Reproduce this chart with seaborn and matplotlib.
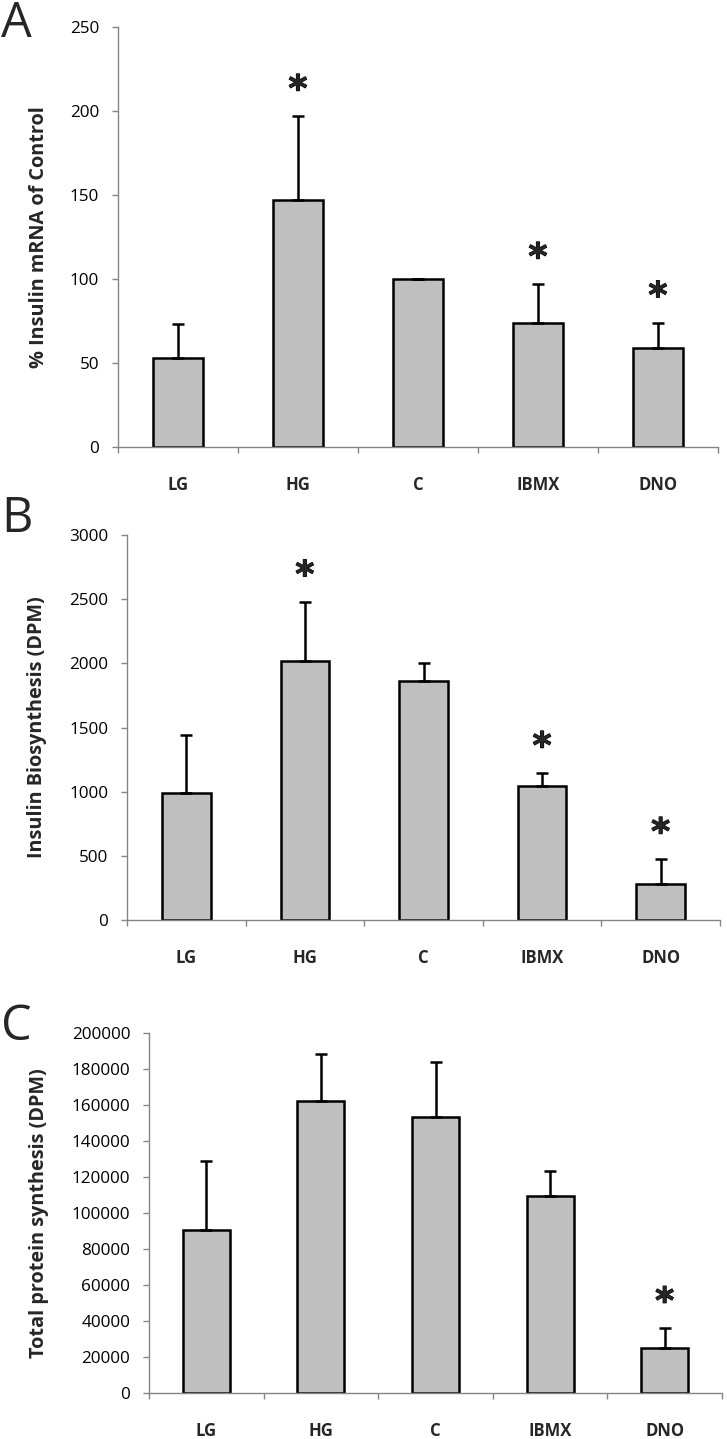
# three-panel bar figure: insulin mRNA, insulin biosynthesis, total protein synthesis
import numpy as np
import matplotlib
matplotlib.use('Agg')
import matplotlib.pyplot as plt
import matplotlib.patheffects as pe
import seaborn as sns

# ---- data
groups = ['LG', 'HG', 'C', 'IBMX', 'DNO']

mrna_mean = [53, 147, 100, 74, 59]
mrna_err = [20, 50, 0, 23, 15]
mrna_sig = [False, True, False, True, True]

biosyn_mean = [990, 2020, 1860, 1045, 280]
biosyn_err = [450, 460, 140, 100, 195]
biosyn_sig = [False, True, False, True, True]

protein_mean = [90500, 162000, 153500, 109500, 25000]
protein_err = [38500, 26500, 30500, 14000, 11000]
protein_sig = [False, False, False, False, True]

# ---- style
sns.set_style('white')
plt.rcParams['font.family'] = ['Open Sans', 'DejaVu Sans']

BAR_GREY = '#BFBFBF'
AXIS_GREY = '#858585'


def draw_panel(ax, means, errs, sig, ylabel, ymax, ystep, label_x):
	sns.barplot(x=groups, y=means, ax=ax, color=BAR_GREY, saturation=1,
	            edgecolor='black', linewidth=1.8, width=0.41, errorbar=None)
	xs = np.arange(len(groups))
	ax.errorbar(xs, means, yerr=[np.zeros(len(means)), errs], fmt='none',
	            ecolor='black', elinewidth=1.8, capsize=4, capthick=1.8, zorder=1)

	# significance stars above the error bars
	for i, s in enumerate(sig):
		if s:
			ax.annotate('*', xy=(i, means[i] + errs[i]), xytext=(0, 6),
			            textcoords='offset points', ha='center', va='bottom',
			            fontsize=26, fontweight='bold', family='DejaVu Sans',
			            path_effects=[pe.withStroke(linewidth=0.8, foreground='black')])

	ax.set_xlim(-0.5, len(groups) - 0.5)
	ax.set_ylim(0, ymax)
	ax.set_yticks(np.arange(0, ymax + ystep, ystep))
	ax.set_xticks(xs)
	ax.set_xticklabels(groups, fontweight='bold', fontsize=12)
	ax.set_xticks(np.arange(-0.5, len(groups), 1), minor=True)
	ax.set_xlabel('')
	ax.set_ylabel(ylabel, fontsize=14.3, fontweight='bold')
	ax.yaxis.set_label_coords(label_x, 0.5)

	for side in ['top', 'right']:
		ax.spines[side].set_visible(False)
	for side in ['left', 'bottom']:
		ax.spines[side].set_color(AXIS_GREY)
		ax.spines[side].set_linewidth(1.0)

	ax.tick_params(axis='y', direction='out', length=4.5, width=1.0,
	               color=AXIS_GREY, labelsize=12.3, pad=9, left=True,
	               labelcolor='black')
	ax.tick_params(axis='x', which='major', length=0, pad=21)
	ax.tick_params(axis='x', which='minor', direction='out', length=4.5,
	               width=1.0, color=AXIS_GREY, bottom=True)


W, H = 727, 1439
fig = plt.figure(figsize=(W / 100, H / 100), dpi=100)

# axes rectangles from pixel boxes (left, top, right, bottom)
def rect(l, t, r, b):
	return [l / W, 1 - b / H, (r - l) / W, (b - t) / H]

ax_a = fig.add_axes(rect(118, 27, 718, 447))
ax_b = fig.add_axes(rect(127, 535, 720, 920))
ax_c = fig.add_axes(rect(149, 1033, 722, 1393))

draw_panel(ax_a, mrna_mean, mrna_err, mrna_sig,
           '% Insulin mRNA of Control', 250, 50, -0.115)
draw_panel(ax_b, biosyn_mean, biosyn_err, biosyn_sig,
           'Insulin Biosynthesis (DPM)', 3000, 500, -0.135)
draw_panel(ax_c, protein_mean, protein_err, protein_sig,
           'Total protein synthesis (DPM)', 200000, 20000, -0.175)

# panel letters
for letter, ypix in [('A', 24), ('B', 519), ('C', 1027)]:
	fig.text(1 / W, 1 - ypix / H, letter, fontsize=35, ha='left', va='center')

fig.savefig('out.png', dpi=100)
